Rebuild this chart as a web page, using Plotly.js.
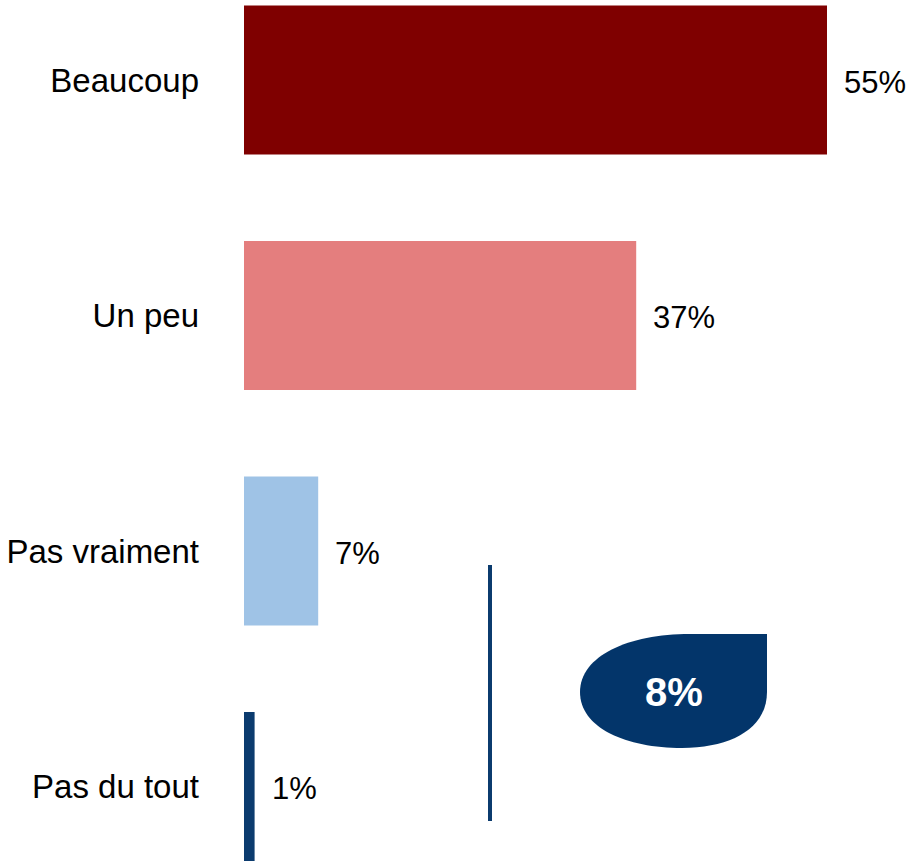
<!DOCTYPE html>
<html>
<head>
<meta charset="utf-8">
<script src="https://cdn.plot.ly/plotly-3.0.1.min.js"></script>
<style>html,body{margin:0;padding:0;background:#fff;}#chart{width:915px;height:862px;}</style>
</head>
<body>
<div id="chart"></div>
<script>
const categories = ["Beaucoup", "Un peu", "Pas vraiment", "Pas du tout"];
const values = [55, 37, 7, 1];
const barColors = ["#7F0000", "#E47E7E", "#9FC3E6", "#0B3B6E"];
const valueLabels = ["55%", "37%", "7%", "1%"];
const negativeTotalLabel = "8%";

const W = 915, H = 862, L = 244;
const plotW = W - L;
// pixel -> paper helpers (plot area: left 244, top 0, full height)
const px = x => (x - L) / plotW;
const py = y => 1 - y / H;
function pathFromPixels(cmds) {
  return cmds.map(c => c[0] + " " + c.slice(1).map((v, i) => (i % 2 === 0 ? px(v) : py(v)).toFixed(5)).join(",")).join(" ") + " Z";
}
const blob = pathFromPixels([
  ["M", 767, 634],
  ["L", 767, 692],
  ["C", 767, 728, 732, 748, 682, 748],
  ["C", 626, 748, 580, 728, 580, 692],
  ["C", 580, 656, 628, 634, 690, 634],
  ["L", 767, 634]
]);

const trace = {
  type: "bar",
  orientation: "h",
  y: categories,
  x: values,
  marker: {color: barColors, line: {width: 0}},
  width: 0.633,
  hoverinfo: "none"
};

const annotations = categories.map((c, i) => ({
  x: values[i], y: c, xref: "x", yref: "y",
  text: valueLabels[i], showarrow: false,
  xanchor: "left", yanchor: "middle", xshift: 15, yshift: -2,
  font: {family: "Liberation Sans, Arial, sans-serif", size: 31, color: "#000"}
}));
annotations.push({
  x: px(674), y: py(692), xref: "paper", yref: "paper",
  text: "<b>" + negativeTotalLabel + "</b>", showarrow: false,
  xanchor: "center", yanchor: "middle",
  font: {family: "Liberation Sans, Arial, sans-serif", size: 40, color: "#fff"}
});

const layout = {
  width: W, height: H,
  margin: {l: L, r: 0, t: 0, b: 0, pad: 0},
  paper_bgcolor: "#fff", plot_bgcolor: "#fff",
  showlegend: false,
  xaxis: {range: [0, plotW / 10.6], visible: false, fixedrange: true},
  yaxis: {
    type: "category",
    range: [(H - 80) / 235.5, -80 / 235.5],
    showgrid: false, zeroline: false, showline: false, ticks: "",
    ticklabelstandoff: 44,
    tickfont: {family: "Liberation Sans, Arial, sans-serif", size: 33, color: "#000"},
    fixedrange: true
  },
  shapes: [
    {type: "line", xref: "paper", yref: "paper", x0: px(490), x1: px(490), y0: py(565), y1: py(821),
     line: {color: "#0B3B6E", width: 4}},
    {type: "path", xref: "paper", yref: "paper", path: blob, fillcolor: "#03356A", line: {width: 0}}
  ],
  annotations: annotations
};

Plotly.newPlot("chart", [trace], layout, {displayModeBar: false, staticPlot: true});
</script>
</body>
</html>
